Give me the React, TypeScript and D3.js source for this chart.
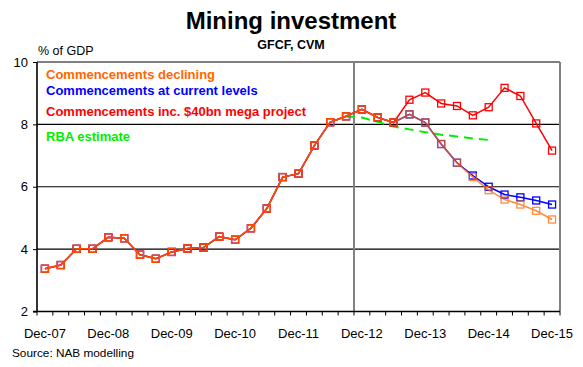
import React, { useEffect, useRef } from 'react';
import * as d3 from 'd3';

// quarterly categories, Dec-07 .. Dec-15
const quarters = [
  'Dec-07', 'Mar-08', 'Jun-08', 'Sep-08', 'Dec-08', 'Mar-09', 'Jun-09', 'Sep-09',
  'Dec-09', 'Mar-10', 'Jun-10', 'Sep-10', 'Dec-10', 'Mar-11', 'Jun-11', 'Sep-11',
  'Dec-11', 'Mar-12', 'Jun-12', 'Sep-12', 'Dec-12', 'Mar-13', 'Jun-13', 'Sep-13',
  'Dec-13', 'Mar-14', 'Jun-14', 'Sep-14', 'Dec-14', 'Mar-15', 'Jun-15', 'Sep-15',
  'Dec-15',
];
const tickLabels = ['Dec-07', 'Dec-08', 'Dec-09', 'Dec-10', 'Dec-11', 'Dec-12', 'Dec-13', 'Dec-14', 'Dec-15'];
const yTicks = [2, 4, 6, 8, 10];

// shared history, Dec-07 .. Jun-13
const history = [
  3.37, 3.49, 4.01, 4.01, 4.38, 4.35, 3.82, 3.69, 3.91, 4.02, 4.05, 4.40,
  4.30, 4.67, 5.30, 6.31, 6.42, 7.32, 8.07, 8.26, 8.48, 8.22, 8.06,
];
// Sep-13 .. Dec-15
const declining = [8.32, 8.06, 7.37, 6.77, 6.31, 5.89, 5.59, 5.43, 5.23, 4.95];
const currentLevels = [8.32, 8.06, 7.37, 6.77, 6.36, 6.00, 5.75, 5.66, 5.56, 5.43];
const megaProject = [8.79, 9.02, 8.67, 8.59, 8.29, 8.55, 9.17, 8.91, 8.03, 7.16];
// RBA estimate, Sep-12 .. Dec-14
const rbaStart = 'Sep-12';
const rba = [8.25, 8.22, 8.08, 7.93, 7.84, 7.75, 7.67, 7.61, 7.55, 7.50];

const legend = [
  { name: 'Commencements declining', color: '#ff6600', y: 79 },
  { name: 'Commencements at current levels', color: '#0000ff', y: 95 },
  { name: 'Commencements inc. $40bn mega project', color: '#ff0000', y: 116 },
  { name: 'RBA estimate', color: '#00ee00', y: 141 },
];

const W = 583, H = 367;
const left = 37, right = 560, top = 62, bottom = 311.5;
const font = 'Liberation Sans, Arial, sans-serif';

export default function App() {
  const ref = useRef<SVGSVGElement>(null);

  useEffect(() => {
    const svg = d3.select(ref.current);
    svg.selectAll('*').remove();

    const x = d3.scaleBand<string>().domain(quarters).range([left, right]);
    const cx = (q: string) => (x(q) as number) + x.bandwidth() / 2;
    const y = d3.scaleLinear().domain([2, 10]).range([bottom, top]);

    // titles
    svg.append('text').attr('x', 291).attr('y', 29).attr('text-anchor', 'middle')
      .attr('font-family', font).attr('font-weight', 'bold').attr('font-size', 24)
      .text('Mining investment');
    svg.append('text').attr('x', 291).attr('y', 49).attr('text-anchor', 'middle')
      .attr('font-family', font).attr('font-weight', 'bold').attr('font-size', 12.5)
      .text('GFCF, CVM');
    svg.append('text').attr('x', 38).attr('y', 55)
      .attr('font-family', font).attr('font-size', 12.5)
      .text('% of GDP');
    svg.append('text').attr('x', 12).attr('y', 357)
      .attr('font-family', font).attr('font-size', 11.8)
      .text('Source: NAB modelling');

    // gridlines
    svg.append('g').selectAll('line').data(yTicks.filter(d => d > 2)).enter()
      .append('line')
      .attr('x1', left).attr('x2', right)
      .attr('y1', d => y(d)).attr('y2', d => y(d))
      .attr('stroke', '#000').attr('stroke-width', 1.2);

    // y axis
    const yAxis = d3.axisLeft(y).tickValues(yTicks).tickSize(4).tickSizeOuter(0);
    const ga = svg.append('g').attr('transform', `translate(${left},0)`).call(yAxis);
    ga.select('.domain').remove();
    ga.selectAll('text').attr('font-family', font).attr('font-size', 13).attr('fill', '#000').attr('dx', '-2');
    ga.selectAll('line').attr('stroke', '#000');
    svg.append('line').attr('x1', left).attr('x2', left).attr('y1', top).attr('y2', bottom)
      .attr('stroke', '#000').attr('stroke-width', 1.6);

    // vertical lines: Dec-12 divider and right border
    const divX = x('Dec-12') as number;
    [divX, right].forEach(v => {
      svg.append('line').attr('x1', v).attr('x2', v).attr('y1', top).attr('y2', bottom)
        .attr('stroke', '#808080').attr('stroke-width', 2);
    });

    // x axis
    svg.append('line').attr('x1', left - 4).attr('x2', right).attr('y1', bottom).attr('y2', bottom)
      .attr('stroke', '#000').attr('stroke-width', 1.6);
    const bounds = quarters.map(q => x(q) as number).concat([right]);
    svg.append('g').selectAll('line').data(bounds).enter().append('line')
      .attr('x1', d => d).attr('x2', d => d).attr('y1', bottom).attr('y2', bottom + 4)
      .attr('stroke', '#000').attr('stroke-width', 1);
    svg.append('g').selectAll('text').data(tickLabels).enter().append('text')
      .attr('x', d => cx(d)).attr('y', 338).attr('text-anchor', 'middle')
      .attr('font-family', font).attr('font-size', 13)
      .text(d => d);

    // series
    const line = d3.line<{ q: string; v: number }>().x(d => cx(d.q)).y(d => y(d.v));
    const toPts = (vals: number[], start: number) => vals.map((v, i) => ({ q: quarters[start + i], v }));

    const series = [
      { vals: history.concat(currentLevels), color: '#0000ff', opacity: 1 },
      { vals: history.concat(megaProject), color: '#ff0000', opacity: 1 },
      { vals: history.concat(declining), color: '#ff6600', opacity: 0.75 },
    ];

    // RBA estimate dashed
    svg.append('path')
      .attr('d', line(toPts(rba, quarters.indexOf(rbaStart))) as string)
      .attr('fill', 'none').attr('stroke', '#00ee00').attr('stroke-width', 2)
      .attr('stroke-dasharray', '9,6');

    series.forEach(s => {
      const pts = toPts(s.vals, 0);
      const g = svg.append('g').attr('opacity', s.opacity);
      g.append('path').attr('d', line(pts) as string)
        .attr('fill', 'none').attr('stroke', s.color).attr('stroke-width', 1.5);
      g.selectAll('rect').data(pts).enter().append('rect')
        .attr('x', d => cx(d.q) - 3.5).attr('y', d => y(d.v) - 3.5)
        .attr('width', 7).attr('height', 7)
        .attr('fill', 'none').attr('stroke', s.color).attr('stroke-width', 1.3);
    });

    // legend
    svg.append('g').selectAll('text').data(legend).enter().append('text')
      .attr('x', 46).attr('y', d => d.y)
      .attr('font-family', font).attr('font-weight', 'bold').attr('font-size', 13)
      .attr('fill', d => d.color)
      .text(d => d.name);
  }, []);

  return (
    <svg ref={ref} width={W} height={H}
      style={{ position: 'absolute', left: 0, top: 0, background: '#fff' }} />
  );
}
